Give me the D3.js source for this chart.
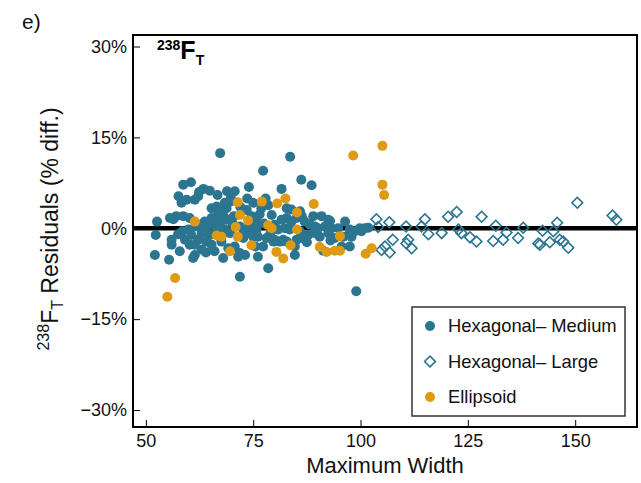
<!DOCTYPE html>
<html>
<head>
<meta charset="utf-8">
<script src="https://cdn.jsdelivr.net/npm/d3@7"></script>
<style>
  body { margin: 0; background: #fff; }
  text { font-family: "Liberation Sans", Arial, Helvetica, sans-serif; }
</style>
</head>
<body>
<svg id="chart" width="641" height="483"></svg>
<script>
// tick values / labels
var xTicks = [50, 75, 100, 125, 150];
var yTicks = [30, 15, 0, -15, -30];
var yTickLabels = ["30%", "15%", "0%", "\u221215%", "\u221230%"];

// [max width, residual %]
var hexMedium = [
  [67.3,12.4],[83.6,11.8],[77.3,9.5],[86.2,8.0],[88.6,7.1],[58.7,7.2],[60.5,7.6],[74.0,6.8],[81.6,6.5],
  [63.4,6.5],[64.9,6.2],[62.4,6.0],[57.6,5.3],[66.7,5.5],[68.9,6.1],[70.7,6.1],[59.5,4.7],[61.4,4.7],
  [62.2,5.3],[58.3,4.2],[73.6,4.9],[77.9,4.9],[75.0,4.2],[69.6,4.4],[68.4,4.2],[68.8,3.3],[76.9,3.3],
  [82.8,3.3],[83.9,3.1],[65.3,3.3],[66.5,3.6],[68.0,2.8],[66.8,2.2],[65.3,1.7],[68.4,1.7],[67.6,2.2],
  [79.3,2.2],[74.6,2.0],[75.8,1.1],[68.8,1.4],[81.6,1.4],[82.8,1.7],[83.9,1.1],[85.1,1.7],[85.9,2.8],
  [86.3,2.0],[89.0,2.0],[90.9,2.0],[92.5,1.4],[96.4,1.1],[92.9,1.2],[87.0,1.1],[88.2,0.6],[89.4,0.3],
  [90.1,0],[91.7,0.3],[93.3,0],[94.8,0],[97.5,-0.2],[98.7,-0.5],[99.8,0],[101.0,0],[101.8,0.1],[100.2,-0.5],
  [85.9,-0.5],[86.3,-1.6],[87.8,-1.1],[89.4,-0.8],[90.5,-1.4],[92.5,-0.8],[94.0,-1.6],[96.0,-1.4],
  [97.9,-1.4],[97.5,-0.8],[95.6,-3.0],[97.5,-3.0],[85.1,-1.9],[91.3,-3.7],
  [71.9,0.3],[72.7,-0.2],[74.2,0.6],[75.8,-0.2],[80.0,0.6],[80.8,-0.2],[82.4,0],[83.5,-0.2],[68.4,-0.2],
  [69.6,-0.8],[67.6,-1.4],[72.7,-1.6],[75.0,-1.4],[76.1,-1.4],[78.1,-1.6],[79.7,-2.2],[81.2,-2.2],
  [82.8,-2.2],[69.2,-3.3],[70.7,-3.0],[71.9,-4.1],[73.1,-4.4],[76.1,-4.7],[78.5,-6.6],[84.7,-3.0],
  [84.7,-4.4],[77.3,-3.0],[80.0,-1.9],[82.0,-1.9],
  [63.7,1.1],[62.6,0.6],[64.1,0],[65.7,0.6],[67.2,0.9],[63.0,-0.8],[64.9,-1.1],[66.5,-0.5],[68.0,-0.2],
  [59.9,-0.2],[60.6,-1.1],[62.2,-1.9],[64.1,-2.2],[65.3,-2.7],[67.6,-2.2],[59.1,-1.9],[60.2,-2.7],
  [52.6,1.1],[52.3,-1.1],[52.1,-4.4],[55.4,-5.2],[57.9,-3.8],[56.0,-1.9],[56.0,-2.7],[61.0,-4.9],
  [55.6,1.7],[57.1,2.0],[58.7,2.0],[60.2,1.7],[56.4,1.5],[61.4,-2.7],[61.4,-4.4],[68.0,-4.9],[71.5,-4.7],
  [71.9,-8.0],[99.0,-10.4],
  [69.8,5.0],[72.0,3.5],[70.5,2.0],[73.5,3.0],[78.5,3.8],[76.5,2.3],[79.0,-0.9],[77.5,0.8],[74.0,-0.8],
  [70.2,0.8],[66.0,-3.8],[63.0,-3.5],[58.5,-0.5],[57.5,-1.0],[61.5,0.3],[64.0,-4.0],[75.5,-3.0],
  [87.5,-2.3],[93.0,-2.0]
];

var hexLarge = [
  [103.7,1.5],[104.1,0.2],[106.7,1.0],[107.5,-1.9],[104.9,-3.6],[105.7,-3.0],[106.8,-4.0],[110.6,0.3],
  [111.1,-1.9],[110.7,-2.5],[111.9,-3.3],[114.2,0.3],[115.0,1.5],[115.8,-1.0],[118.9,-0.8],[120.4,1.9],
  [122.4,2.7],[122.8,-0.2],[123.5,-0.8],[125.5,-1.5],[127.0,-2.2],[128.2,1.9],[130.9,-2.1],[131.5,0.4],
  [133.2,-1.9],[134.0,-0.7],[136.7,-1.6],[137.9,0.1],[141.4,-2.5],[141.8,-2.7],[142.4,-0.4],[144.1,-2.3],
  [144.9,-0.5],[145.8,0.9],[146.4,-1.9],[147.2,-2.2],[148.4,-3.2],[150.5,4.2],[158.7,2.1],[159.6,1.4]
];

var ellipsoid = [
  [105.1,13.6],[98.3,12.0],[105.1,7.2],[105.5,5.5],[55.0,-11.3],[56.8,-8.2],[61.4,1.1],[71.4,4.3],
  [77.0,4.4],[80.6,4.1],[82.5,4.9],[89.1,4.0],[71.9,2.2],[73.8,1.3],[85.2,2.6],[70.9,0.2],[78.5,0.5],
  [79.3,0],[85.2,-0.2],[66.5,-1.2],[67.6,-1.4],[71.4,-1.4],[74.6,-2.8],[69.6,-3.8],[80.4,-3.9],
  [82.0,-5.0],[83.7,-2.8],[95.2,-1.3],[90.5,-3.1],[92.1,-3.9],[94.0,-3.7],[95.2,-3.7],[101.2,-4.2],
  [102.6,-3.3]
];

var legendLabels = ["Hexagonal\u2013 Medium", "Hexagonal\u2013 Large", "Ellipsoid"];

var teal = "#2b7590",
  gold = "#dd9a12";

var svg = d3.select("#chart"),
  margin = { top: 35, right: 4, bottom: 56, left: 133 },
  W = +svg.attr("width"),
  H = +svg.attr("height"),
  plotL = margin.left,
  plotR = W - margin.right,
  plotT = margin.top,
  plotB = H - margin.bottom;

var x = d3.scaleLinear().domain([47, 164.4]).range([plotL, plotR]);
var y = d3.scaleLinear().domain([-32.8, 31.9]).range([plotB, plotT]);

svg.append("rect").attr("width", W).attr("height", H).attr("fill", "#fff");

// zero line
svg.append("line")
  .attr("x1", plotL).attr("x2", plotR)
  .attr("y1", y(0)).attr("y2", y(0))
  .attr("stroke", "#000")
  .attr("stroke-width", 4.5);

// points
svg.append("g").selectAll("circle")
  .data(hexMedium)
  .join("circle")
    .attr("cx", d => x(d[0]))
    .attr("cy", d => y(d[1]))
    .attr("r", 5)
    .attr("fill", teal);

var diamond = d3.symbol().type(d3.symbolSquare).size(58);
svg.append("g").selectAll("path")
  .data(hexLarge)
  .join("path")
    .attr("d", diamond)
    .attr("transform", d => `translate(${x(d[0])},${y(d[1])}) rotate(45)`)
    .attr("fill", "none")
    .attr("stroke", teal)
    .attr("stroke-width", 1.6);

svg.append("g").selectAll("circle")
  .data(ellipsoid)
  .join("circle")
    .attr("cx", d => x(d[0]))
    .attr("cy", d => y(d[1]))
    .attr("r", 5)
    .attr("fill", gold);

// axes, ticks inside the frame
svg.append("g")
    .attr("transform", `translate(0,${plotB})`)
    .call(d3.axisBottom(x).tickValues(xTicks).tickSizeInner(-7).tickSizeOuter(0).tickPadding(7))
    .call(g => g.select(".domain").remove())
    .call(g => g.selectAll("line").attr("stroke", "#000").attr("stroke-width", 1))
    .call(g => g.selectAll("text").attr("font-size", 18).attr("fill", "#111")
      .attr("font-family", "Liberation Sans, Arial, sans-serif"));

svg.append("g")
    .attr("transform", `translate(${plotL},0)`)
    .call(d3.axisLeft(y).tickValues(yTicks).tickSizeInner(-7).tickSizeOuter(0).tickPadding(6)
      .tickFormat((d, i) => yTickLabels[i]))
    .call(g => g.select(".domain").remove())
    .call(g => g.selectAll("line").attr("stroke", "#000").attr("stroke-width", 1))
    .call(g => g.selectAll("text").attr("font-size", 18).attr("fill", "#111")
      .attr("font-family", "Liberation Sans, Arial, sans-serif"));

// frame
svg.append("rect")
  .attr("x", plotL).attr("y", plotT)
  .attr("width", plotR - plotL).attr("height", plotB - plotT)
  .attr("fill", "none")
  .attr("stroke", "#000")
  .attr("stroke-width", 2);

// axis titles
svg.append("text")
  .attr("x", (plotL + plotR) / 2)
  .attr("y", 473)
  .attr("text-anchor", "middle")
  .attr("font-size", 22)
  .attr("fill", "#111")
  .text("Maximum Width");

var yt = svg.append("text")
  .attr("transform", `translate(58,229) rotate(-90)`)
  .attr("text-anchor", "middle")
  .attr("font-size", 23)
  .attr("fill", "#111");
yt.append("tspan").attr("font-size", 16).attr("dy", -9).text("238");
yt.append("tspan").attr("dy", 9).text("F");
yt.append("tspan").attr("font-size", 16).attr("dy", 5).text("T");
yt.append("tspan").attr("dy", -5).text(" Residuals (% diff.)");

// panel letter and label
svg.append("text")
  .attr("x", 22).attr("y", 29)
  .attr("font-size", 21)
  .attr("fill", "#111")
  .text("e)");

var pl = svg.append("text")
  .attr("x", 157).attr("y", 59)
  .attr("font-size", 25)
  .attr("font-weight", "bold")
  .attr("fill", "#000");
pl.append("tspan").attr("font-size", 14).attr("dy", -9).text("238");
pl.append("tspan").attr("dy", 9).text("F");
pl.append("tspan").attr("font-size", 14).attr("dy", 6).text("T");

// legend
var lg = svg.append("g");
lg.append("rect")
  .attr("x", 412).attr("y", 307)
  .attr("width", 213).attr("height", 109)
  .attr("fill", "#fff")
  .attr("stroke", "#333")
  .attr("stroke-width", 1.5);

var rows = lg.selectAll("g.row")
  .data(legendLabels)
  .join("g")
    .attr("class", "row")
    .attr("transform", (d, i) => `translate(430,${326 + i * 35.5})`);

rows.filter((d, i) => i !== 1).append("circle")
  .attr("r", 5)
  .attr("fill", (d, i) => i === 0 ? teal : gold);
rows.filter((d, i) => i === 1).append("path")
  .attr("d", diamond)
  .attr("transform", "rotate(45)")
  .attr("fill", "none")
  .attr("stroke", teal)
  .attr("stroke-width", 1.6);

rows.append("text")
  .attr("x", 18)
  .attr("dy", "0.35em")
  .attr("font-size", 18.4)
  .attr("fill", "#111")
  .text(d => d);
</script>
</body>
</html>
